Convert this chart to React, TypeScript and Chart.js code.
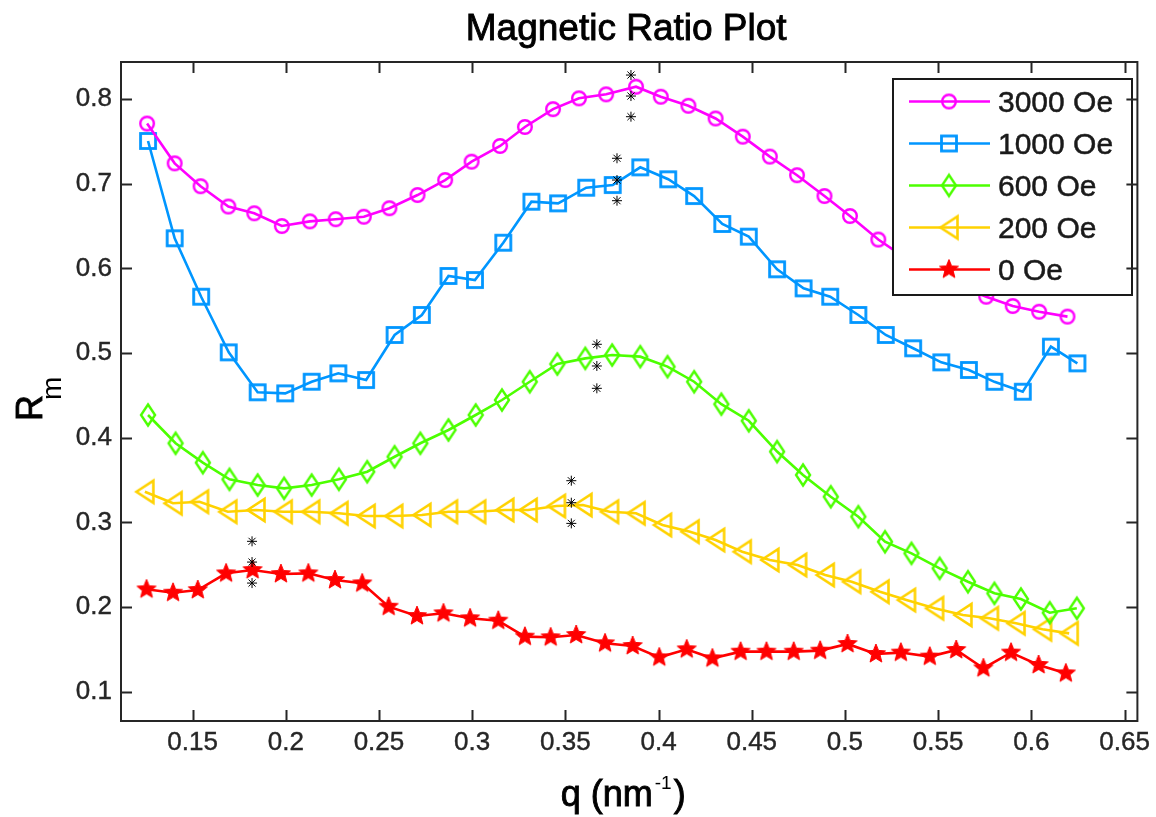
import React, { useEffect, useRef } from 'react';
import { Chart, registerables } from 'chart.js';

Chart.register(...registerables);

const FONT = "'Liberation Sans', Arial, Helvetica, sans-serif";

const chartTitle = 'Magnetic Ratio Plot';
const seriesLabels = ['3000 Oe', '1000 Oe', '600 Oe', '200 Oe', '0 Oe'];
const seriesColors = ['#ff00ff', '#0096ff', '#4cff00', '#ffd200', '#ff0000'];
const seriesMarkers = ['circle', 'square', 'diamond', 'triLeft', 'pentagram'];

const q3000 = [0.1256, 0.1404, 0.1543, 0.1692, 0.1831, 0.1979, 0.2129, 0.2268, 0.2419, 0.2556, 0.2707, 0.2855, 0.2997, 0.315, 0.3283, 0.3434, 0.3573, 0.3719, 0.3879, 0.4012, 0.416, 0.4306, 0.4452, 0.4597, 0.4743, 0.489, 0.5027, 0.5179, 0.5325, 0.547, 0.5615, 0.5758, 0.59, 0.6042, 0.6194];
const r3000 = [0.771, 0.724, 0.697, 0.673, 0.665, 0.65, 0.6555, 0.658, 0.661, 0.671, 0.6866, 0.7043, 0.726, 0.7445, 0.767, 0.788, 0.8008, 0.8055, 0.8145, 0.8027, 0.792, 0.777, 0.7555, 0.732, 0.71, 0.6854, 0.6618, 0.634, 0.612, 0.594, 0.579, 0.5665, 0.5555, 0.5488, 0.543];

const q1000 = [0.1261, 0.1404, 0.1546, 0.1694, 0.1849, 0.1997, 0.2139, 0.2282, 0.2431, 0.2584, 0.273, 0.2873, 0.3015, 0.3167, 0.3318, 0.3461, 0.3612, 0.3754, 0.3902, 0.4052, 0.4191, 0.4342, 0.4484, 0.4636, 0.4778, 0.4921, 0.5072, 0.5219, 0.5366, 0.5517, 0.5665, 0.5802, 0.5954, 0.6105, 0.6247];
const r1000 = [0.7504, 0.6355, 0.5665, 0.5008, 0.4536, 0.4524, 0.4661, 0.476, 0.4681, 0.5213, 0.5449, 0.591, 0.5862, 0.6303, 0.6787, 0.6768, 0.6952, 0.6984, 0.7193, 0.7052, 0.6854, 0.6524, 0.6374, 0.5989, 0.5764, 0.5665, 0.5449, 0.5213, 0.5056, 0.489, 0.48, 0.466, 0.4543, 0.5075, 0.4878];

const q600 = [0.1261, 0.1409, 0.1555, 0.1698, 0.1849, 0.1991, 0.2139, 0.2285, 0.2437, 0.2584, 0.2722, 0.2873, 0.3019, 0.316, 0.3309, 0.3457, 0.3607, 0.3751, 0.3902, 0.4048, 0.4191, 0.4337, 0.4484, 0.4636, 0.4775, 0.4924, 0.5072, 0.5215, 0.5357, 0.5508, 0.566, 0.5802, 0.5944, 0.6099, 0.6244];
const r600 = [0.4268, 0.3934, 0.3705, 0.3508, 0.3441, 0.3402, 0.3441, 0.3508, 0.3598, 0.3775, 0.3934, 0.4091, 0.4268, 0.4445, 0.4661, 0.487, 0.4937, 0.4976, 0.4957, 0.4839, 0.4661, 0.4396, 0.42, 0.3836, 0.356, 0.3303, 0.3067, 0.2771, 0.2634, 0.2457, 0.2299, 0.2162, 0.2095, 0.1933, 0.1985];

const q200 = [0.1244, 0.1395, 0.1537, 0.1689, 0.184, 0.1986, 0.2134, 0.2285, 0.2431, 0.2579, 0.273, 0.2873, 0.3024, 0.3175, 0.33, 0.3452, 0.3594, 0.3737, 0.3879, 0.4021, 0.4169, 0.4306, 0.4449, 0.4597, 0.4746, 0.4894, 0.5036, 0.5188, 0.533, 0.5481, 0.5633, 0.5775, 0.5918, 0.606, 0.6203];
const r200 = [0.3362, 0.3225, 0.3244, 0.3126, 0.3146, 0.3126, 0.3126, 0.3107, 0.3075, 0.3075, 0.3087, 0.3126, 0.3126, 0.3146, 0.3146, 0.3193, 0.3205, 0.3126, 0.3107, 0.2969, 0.289, 0.2792, 0.2654, 0.2556, 0.2497, 0.2379, 0.2299, 0.2181, 0.2083, 0.1985, 0.1906, 0.1867, 0.1808, 0.1737, 0.1689];

const q0 = [0.1253, 0.1395, 0.1528, 0.168, 0.1822, 0.1974, 0.2121, 0.2264, 0.241, 0.2552, 0.2704, 0.2846, 0.2989, 0.314, 0.3283, 0.3421, 0.3558, 0.3713, 0.3861, 0.4004, 0.4151, 0.4289, 0.444, 0.4579, 0.4725, 0.4867, 0.5014, 0.5166, 0.53, 0.5455, 0.5597, 0.5743, 0.5891, 0.6039, 0.6185];
const r0 = [0.2209, 0.2169, 0.2201, 0.2398, 0.2437, 0.239, 0.2398, 0.2319, 0.228, 0.2004, 0.1894, 0.1926, 0.1867, 0.1839, 0.165, 0.1643, 0.167, 0.1572, 0.154, 0.1406, 0.1501, 0.1394, 0.1473, 0.1473, 0.1473, 0.1485, 0.1564, 0.1446, 0.1462, 0.1415, 0.1493, 0.1277, 0.1462, 0.1316, 0.1217];

const seriesQ = [q3000, q1000, q600, q200, q0];
const seriesR = [r3000, r1000, r600, r200, r0];

// black asterisk markers above/at/below the peak of each curve
const asteriskQ = [0.3852, 0.3852, 0.3852, 0.3777, 0.3777, 0.3777, 0.3669, 0.3669, 0.3669, 0.3532, 0.3532, 0.3532, 0.1819, 0.1819, 0.1819];
const asteriskR = [0.8283, 0.8035, 0.7791, 0.73, 0.7043, 0.6799, 0.5103, 0.4847, 0.4583, 0.3492, 0.3232, 0.2988, 0.2776, 0.2531, 0.2283];

const xTickValues = [0.15, 0.2, 0.25, 0.3, 0.35, 0.4, 0.45, 0.5, 0.55, 0.6, 0.65];
const xTickLabels = ['0.15', '0.2', '0.25', '0.3', '0.35', '0.4', '0.45', '0.5', '0.55', '0.6', '0.65'];
const yTickValues = [0.1, 0.2, 0.3, 0.4, 0.5, 0.6, 0.7, 0.8];
const yTickLabels = ['0.1', '0.2', '0.3', '0.4', '0.5', '0.6', '0.7', '0.8'];

const xMin = 0.1116;
const xMax = 0.6569;
const yMin = 0.0654;
const yMax = 0.8437;

function makeMarker(kind: string, color: string): HTMLCanvasElement {
  const c = document.createElement('canvas');
  c.width = 30;
  c.height = 30;
  const g = c.getContext('2d')!;
  g.translate(15, 15);
  g.strokeStyle = color;
  g.fillStyle = color;
  g.lineWidth = 2.4;
  g.lineJoin = 'miter';
  g.beginPath();
  if (kind === 'circle') {
    g.arc(0, 0, 6.8, 0, Math.PI * 2);
    g.stroke();
  } else if (kind === 'square') {
    g.lineWidth = 2.8;
    g.strokeRect(-7.5, -7.5, 15, 15);
  } else if (kind === 'diamond') {
    g.moveTo(0, -10.5);
    g.lineTo(7, 0);
    g.lineTo(0, 10.5);
    g.lineTo(-7, 0);
    g.closePath();
    g.stroke();
  } else if (kind === 'triLeft') {
    g.lineWidth = 2.6;
    g.moveTo(-8.5, 0);
    g.lineTo(8.5, -11);
    g.lineTo(8.5, 11);
    g.closePath();
    g.stroke();
  } else if (kind === 'pentagram') {
    for (let i = 0; i < 10; i++) {
      const rad = i % 2 === 0 ? 10 : 4.4;
      const a = -Math.PI / 2 + (i * Math.PI) / 5;
      const px = Math.cos(a) * rad;
      const py = Math.sin(a) * rad;
      if (i === 0) g.moveTo(px, py);
      else g.lineTo(px, py);
    }
    g.closePath();
    g.fill();
    g.lineWidth = 1;
    g.stroke();
  }
  return c;
}

export default function App() {
  const ref = useRef<HTMLCanvasElement>(null);

  useEffect(() => {
    document.body.style.margin = '0';
    const canvas = ref.current!;
    const markers = seriesMarkers.map((m, i) => makeMarker(m, seriesColors[i]));

    const datasets: any[] = seriesLabels.map((label, i) => ({
      label,
      data: seriesQ[i].map((q, j) => ({ x: q, y: seriesR[i][j] })),
      borderColor: seriesColors[i],
      backgroundColor: seriesColors[i],
      borderWidth: 2.6,
      pointStyle: markers[i],
      pointRadius: 7,
      pointHoverRadius: 7,
      tension: 0,
      fill: false,
      order: 1,
    }));
    datasets.push({
      label: 'asterisks',
      data: asteriskQ.map((q, j) => ({ x: q, y: asteriskR[j] })),
      showLine: false,
      borderColor: '#000000',
      backgroundColor: '#000000',
      pointStyle: 'star',
      pointRadius: 5,
      pointBorderWidth: 1,
      order: 0,
    });

    const frame = {
      id: 'matlabFrame',
      afterDatasetsDraw(chart: any) {
        const ctx = chart.ctx;
        // legend
        const lx = 893, ly = 79, lw = 239, lh = 216;
        ctx.save();
        ctx.fillStyle = '#ffffff';
        ctx.fillRect(lx, ly, lw, lh);
        ctx.strokeStyle = '#1a1a1a';
        ctx.lineWidth = 2;
        ctx.strokeRect(lx, ly, lw, lh);
        seriesLabels.forEach((label, i) => {
          const y = 101.5 + i * 42;
          ctx.strokeStyle = seriesColors[i];
          ctx.lineWidth = 2.6;
          ctx.beginPath();
          ctx.moveTo(909, y);
          ctx.lineTo(990, y);
          ctx.stroke();
          const m = markers[i];
          ctx.drawImage(m, 949 - m.width / 2, y - m.height / 2);
          ctx.fillStyle = '#1a1a1a';
          ctx.strokeStyle = '#1a1a1a';
          ctx.lineWidth = 0.5;
          ctx.font = `30px ${FONT}`;
          ctx.textAlign = 'left';
          ctx.textBaseline = 'middle';
          ctx.fillText(label, 998, y + 2);
          ctx.strokeText(label, 998, y + 2);
        });
        ctx.restore();
      },
      afterDraw(chart: any) {
        const ctx = chart.ctx;
        const a = chart.chartArea;
        const xs = chart.scales.x;
        const ys = chart.scales.y;
        ctx.save();
        ctx.strokeStyle = '#262626';
        ctx.lineWidth = 2;
        ctx.strokeRect(a.left, a.top, a.right - a.left, a.bottom - a.top);
        const tl = 11;
        ctx.beginPath();
        xTickValues.forEach((v) => {
          const px = Math.round(xs.getPixelForValue(v)) + 0.5;
          ctx.moveTo(px, a.bottom);
          ctx.lineTo(px, a.bottom - tl);
          ctx.moveTo(px, a.top);
          ctx.lineTo(px, a.top + tl);
        });
        yTickValues.forEach((v) => {
          const py = Math.round(ys.getPixelForValue(v)) + 0.5;
          ctx.moveTo(a.left, py);
          ctx.lineTo(a.left + tl, py);
          ctx.moveTo(a.right, py);
          ctx.lineTo(a.right - tl, py);
        });
        ctx.stroke();

        // title
        ctx.fillStyle = '#000000';
        ctx.strokeStyle = '#000000';
        ctx.lineWidth = 0.9;
        ctx.textAlign = 'center';
        ctx.textBaseline = 'alphabetic';
        ctx.font = `37px ${FONT}`;
        ctx.fillText(chartTitle, (a.left + a.right) / 2 - 3, 40);
        ctx.strokeText(chartTitle, (a.left + a.right) / 2 - 3, 40);

        // x-axis title: q (nm^-1)
        const bigFont = `36px ${FONT}`;
        const supFont = `19px ${FONT}`;
        ctx.textAlign = 'left';
        ctx.font = bigFont;
        const p1 = 'q (nm';
        const w1 = ctx.measureText(p1).width;
        ctx.font = supFont;
        const p2 = '-1';
        const w2 = ctx.measureText(p2).width;
        ctx.font = bigFont;
        const p3 = ')';
        const w3 = ctx.measureText(p3).width;
        const total = w1 + w2 + w3 + 4;
        let sx = (a.left + a.right) / 2 - 6 - total / 2;
        const base = 806;
        ctx.fillText(p1, sx, base);
        ctx.strokeText(p1, sx, base);
        sx += w1 + 2;
        ctx.font = supFont;
        ctx.fillText(p2, sx, base - 17);
        sx += w2 + 2;
        ctx.font = bigFont;
        ctx.fillText(p3, sx, base);
        ctx.strokeText(p3, sx, base);

        // y-axis title: R_m
        ctx.save();
        ctx.translate(42, 421);
        ctx.rotate(-Math.PI / 2);
        ctx.font = bigFont;
        ctx.fillText('R', 0, 0);
        ctx.strokeText('R', 0, 0);
        const rw = ctx.measureText('R').width;
        ctx.font = `28px ${FONT}`;
        ctx.fillText('m', rw - 5, 19);
        ctx.restore();
        ctx.restore();
      },
    };

    const tickFont = { family: FONT, size: 26 };

    const chart = new Chart(canvas, {
      type: 'line',
      data: { datasets },
      options: {
        animation: false,
        responsive: false,
        devicePixelRatio: 1,
        layout: { padding: { left: 0, right: 13, top: 62, bottom: 0 } },
        plugins: {
          legend: { display: false },
          tooltip: { enabled: false },
          title: { display: false },
        },
        scales: {
          x: {
            type: 'linear',
            min: xMin,
            max: xMax,
            grid: { display: false, drawTicks: false },
            border: { display: false },
            afterBuildTicks: (scale: any) => {
              scale.ticks = xTickValues.map((v) => ({ value: v }));
            },
            afterFit: (scale: any) => {
              scale.height = 96;
            },
            ticks: {
              autoSkip: false,
              maxRotation: 0,
              minRotation: 0,
              padding: 6,
              color: '#262626',
              textStrokeColor: '#262626',
              textStrokeWidth: 0.4,
              font: tickFont,
              callback: (_v: any, i: number) => xTickLabels[i],
            },
          },
          y: {
            type: 'linear',
            min: yMin,
            max: yMax,
            grid: { display: false, drawTicks: false },
            border: { display: false },
            afterBuildTicks: (scale: any) => {
              scale.ticks = yTickValues.map((v) => ({ value: v }));
            },
            afterFit: (scale: any) => {
              scale.width = 121;
            },
            ticks: {
              autoSkip: false,
              padding: 9,
              color: '#262626',
              textStrokeColor: '#262626',
              textStrokeWidth: 0.4,
              font: tickFont,
              callback: (_v: any, i: number) => yTickLabels[i],
            },
          },
        },
      } as any,
      plugins: [frame],
    });

    return () => chart.destroy();
  }, []);

  return (
    <div style={{ width: 1156, height: 817, position: 'relative', background: '#ffffff' }}>
      <canvas ref={ref} width={1156} height={817} style={{ display: 'block', width: 1156, height: 817 }} />
    </div>
  );
}
